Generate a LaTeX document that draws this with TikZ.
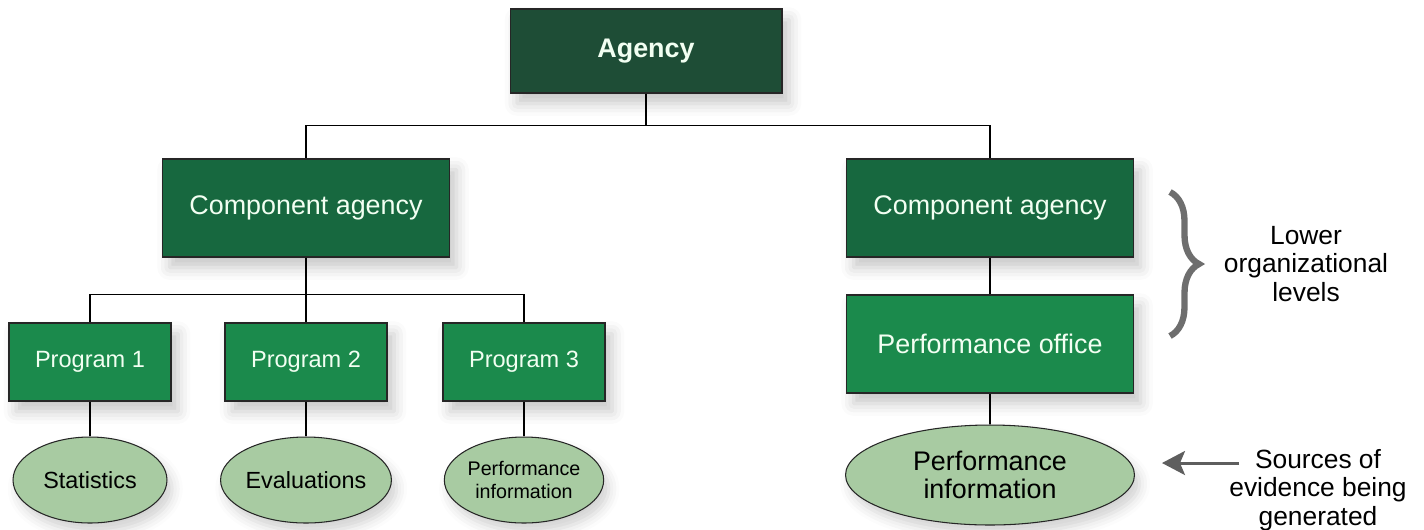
\documentclass[tikz,border=0pt]{standalone}
\usepackage{fontspec}
\setmainfont{Liberation Sans}
\usetikzlibrary{shapes.geometric, decorations.pathreplacing, arrows.meta, shadows.blur}

\definecolor{agencygreen}{HTML}{1E4D36}
\definecolor{compgreen}{HTML}{17683F}
\definecolor{proggreen}{HTML}{1B8A4C}
\definecolor{sourcegreen}{HTML}{A8CBA2}
\definecolor{notegray}{HTML}{6E6E6E}

\begin{document}
\begin{tikzpicture}
[x=0.02cm, y=-0.02cm, line width=1.1pt,
unit/.style={rectangle, draw=black!85, line width=0.6pt, text=white!95!green, inner sep=0pt,
    font=\fontsize{15.3}{18}\selectfont,
    blur shadow={shadow xshift=4pt, shadow yshift=-6pt, shadow blur radius=7pt, shadow opacity=22}},
source/.style={ellipse, draw=black!85, line width=0.6pt, fill=sourcegreen, inner sep=0pt, align=center,
    font=\fontsize{13.3}{15}\selectfont,
    blur shadow={shadow xshift=3pt, shadow yshift=-5pt, shadow blur radius=6pt, shadow opacity=18}},
note/.style={align=center, font=\fontsize{15}{16.2}\selectfont}]

\useasboundingbox (0,0) rectangle (1424,529);

\node[unit, fill=agencygreen, minimum width=5.44cm, minimum height=1.68cm,
    font=\fontsize{15.3}{18}\selectfont\bfseries] (agency) at (646, 51) {Agency};

\node[unit, fill=compgreen, minimum width=5.74cm, minimum height=1.96cm] (compL) at (306, 208) {Component agency};
\node[unit, fill=compgreen, minimum width=5.74cm, minimum height=1.96cm] (compR) at (990, 208) {Component agency};
\node[unit, fill=proggreen, minimum width=5.74cm, minimum height=1.96cm] (office) at (990, 344) {Performance office};

\foreach \n/\x in {1/90, 2/306, 3/524} {
    \node[unit, fill=proggreen, minimum width=3.24cm, minimum height=1.56cm,
        font=\fontsize{13.4}{16}\selectfont] (prog\n) at (\x, 362) {Program \n};
}

\node[source, minimum width=3.08cm, minimum height=1.72cm] (src1) at (90, 480) {Statistics};
\node[source, minimum width=3.08cm, minimum height=1.72cm] (src2) at (306, 480) {Evaluations};
\node[source, minimum width=3.08cm, minimum height=1.72cm,
    font=\fontsize{11.2}{12.6}\selectfont] (src3) at (524, 480) {Performance\\information};
\node[source, minimum width=5.78cm, minimum height=2.0cm,
    font=\fontsize{15.3}{16}\selectfont] (perfR) at (990, 475) {Performance\\information};

\draw (agency.south) -- ++(0, 32) -| (compL.north);
\draw (agency.south) -- ++(0, 32) -| (compR.north);
\foreach \n in {1, 2, 3} {
    \draw (compL.south) -- ++(0, 37) -| (prog\n.north);
    \draw (prog\n.south) -- (src\n.north);
}
\draw (compR.south) -- (office.north);
\draw (office.south) -- (perfR.north);

\node[note] (levels) at (1306, 264) {Lower\\organizational\\levels};
\node[note] (sources) at (1318, 490) {Sources of\\evidence being\\generated};

\coordinate (braceTop) at (1170, 192);
\coordinate (braceBot) at (1170, 336);
\draw[notegray, line width=3.6pt, decorate, decoration={brace, amplitude=0.58cm}] (braceTop) -- (braceBot);

\coordinate (arrowTail) at (1239, 463);
\draw[notegray!85!black, line width=1.7pt, -{Stealth[length=0.46cm, width=0.48cm, inset=0.1cm]}]
    (arrowTail) -- ([xshift=0.54cm]perfR.east |- arrowTail);

\end{tikzpicture}
\end{document}
